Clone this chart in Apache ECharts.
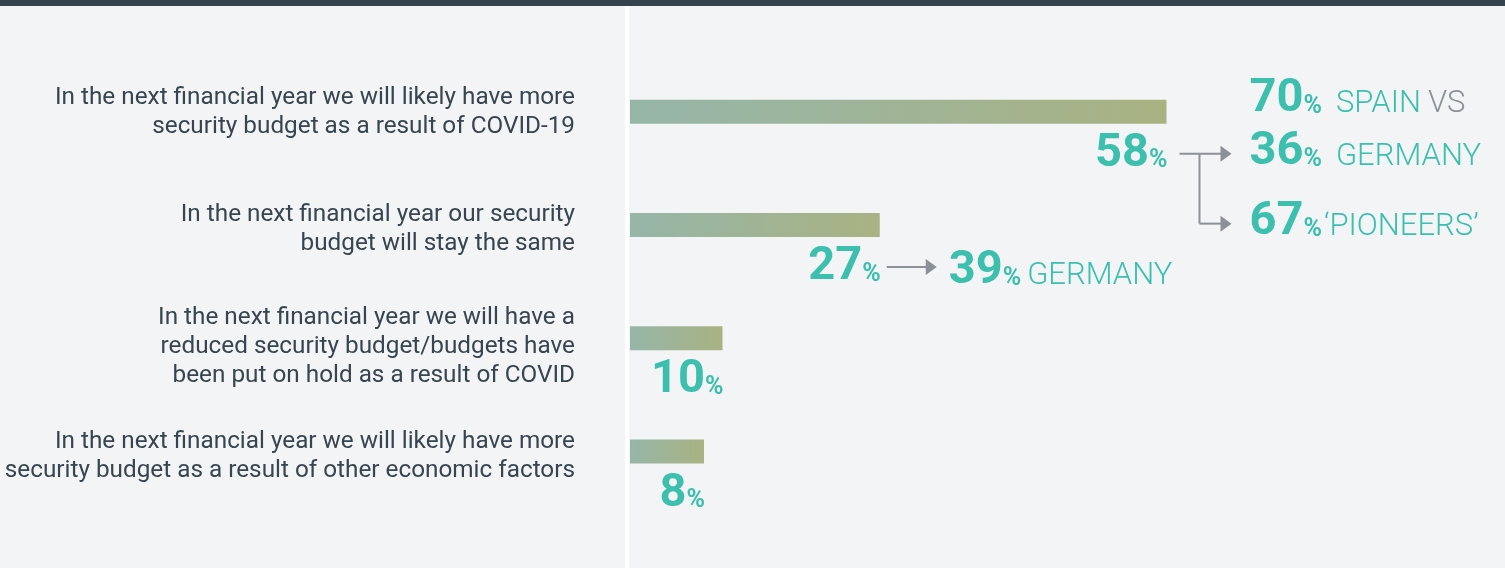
<!DOCTYPE html>
<html><head><meta charset="utf-8">
<script src="https://cdn.jsdelivr.net/npm/echarts@6/dist/echarts.min.js"></script>
<style>html,body{margin:0;padding:0;background:#f3f4f6}#c{width:1505px;height:568px}</style>
</head><body><div id="c"></div>
<script>
const categories = [
  'In the next financial year we will likely have more\nsecurity budget as a result of COVID-19',
  'In the next financial year our security\nbudget will stay the same',
  'In the next financial year we will have a\nreduced security budget/budgets have\nbeen put on hold as a result of COVID',
  'In the next financial year we will likely have more\nsecurity budget as a result of other economic factors'
];
const values = [58, 27, 10, 8];
const row1CalloutValues = [70, 36, 67];
const row1CalloutLabels = ['SPAIN', 'GERMANY', '\u2018PIONEERS\u2019'];
const row1CalloutSuffix = ['VS', '', ''];
const row2CalloutValues = [39];
const row2CalloutLabels = ['GERMANY'];

const TEAL = '#3cbfad', DARK = '#36454f', GREY = '#8b9197';
const FONT = 'Roboto';
const chart = echarts.init(document.getElementById('c'), null, {renderer: 'canvas'});

function makeRich(key) {
  const c = (col) => { const o = {}; o[key] = col; return o; };
  const word = (pl, col) => Object.assign({fontSize: 31, fontWeight: 300, fontFamily: FONT, lineHeight: 31, verticalAlign: 'bottom', padding: [0, 0, 3, pl]}, c(col));
  return {
    n: Object.assign({fontSize: 47, fontWeight: 'bold', fontFamily: FONT, lineHeight: 47, verticalAlign: 'bottom'}, c(TEAL)),
    p: Object.assign({fontSize: 25, fontWeight: 'bold', fontFamily: FONT, lineHeight: 25, verticalAlign: 'bottom', padding: [0, 0, 4, 0]}, c(TEAL)),
    w: word(14, TEAL),
    v: word(6, TEAL),
    q: word(2, TEAL),
    g: word(7, GREY)
  };
}

// vertical fine-tuning of the category labels (each line nudged down by pad/2)
const labelPad = [2, 10, 18, 10];
const labelRich = {};
labelPad.forEach((p, i) => {
  labelRich['t' + i] = {fontSize: 24.3, lineHeight: 29, fontFamily: FONT, color: DARK, align: 'right', padding: [p, 0, 0, 0]};
});

chart.setOption({
  backgroundColor: '#f3f4f6',
  animation: false,
  grid: {left: 630, top: 55, height: 453, width: 740},
  xAxis: {type: 'value', min: 0, max: 80, show: false},
  yAxis: {
    type: 'category', inverse: true,
    data: categories,
    axisLine: {show: false}, axisTick: {show: false}, splitLine: {show: false},
    axisLabel: {
      margin: 55, color: DARK, fontSize: 24.3, lineHeight: 29, fontFamily: FONT, align: 'right',
      formatter: (val, idx) => val.split('\n').map(l => '{t' + idx + '|' + l + '}').join('\n'),
      rich: labelRich
    }
  },
  series: [{
    type: 'bar', data: values, barWidth: 24,
    itemStyle: {color: new echarts.graphic.LinearGradient(0, 0, 1, 0, [{offset: 0, color: '#96b6a9'}, {offset: 1, color: '#a9b282'}])},
    label: {
      show: true, position: ['100%', '100%'], align: 'right', verticalAlign: 'top', offset: [1, 7],
      formatter: p => '{n|' + p.value + '}{p|%}',
      rich: makeRich('color')
    }
  }]
});

const gRich = makeRich('fill');
function arrowHead(x, y) {
  return {type: 'polygon', shape: {points: [[x - 11, y - 8], [x, y], [x - 11, y + 8]]}, style: {fill: GREY}, z: 10};
}
function line(x1, y1, x2, y2) {
  return {type: 'line', shape: {x1, y1, x2, y2}, style: {stroke: GREY, lineWidth: 2}, z: 10};
}
function callText(x, baseline, v, label, suffix, wordKey) {
  let t = '{n|' + v + '}{p|%}' + '{' + wordKey + '|' + label + '}';
  if (suffix) t += '{g|' + suffix + '}';
  return {type: 'text', x: x, y: baseline + 11, style: {text: t, rich: gRich, verticalAlign: 'bottom', align: 'left'}, z: 10};
}

const p0 = chart.convertToPixel({gridIndex: 0}, [values[0], 0]);
const p1 = chart.convertToPixel({gridIndex: 0}, [values[1], 1]);
const els = [
  {type: 'rect', shape: {x: 0, y: 0, width: 1505, height: 6}, style: {fill: '#33444f'}, z: 20},
  {type: 'rect', shape: {x: 625, y: 6, width: 4, height: 562}, style: {fill: '#ffffff'}, z: 1}
];
const ya = p0[1] + 42;
els.push(line(p0[0] + 13, ya, p0[0] + 58, ya));
els.push(arrowHead(p0[0] + 65, ya));
els.push(line(p0[0] + 33, ya, p0[0] + 33, ya + 70));
els.push(line(p0[0] + 33, ya + 70, p0[0] + 58, ya + 70));
els.push(arrowHead(p0[0] + 65, ya + 70));
const baselines1 = [p0[1] + 0.5, p0[1] + 53.5, p0[1] + 123.5];
const wordKeys1 = ['w', 'w', 'q'];
row1CalloutValues.forEach((v, i) => {
  els.push(callText(p0[0] + 83, baselines1[i], v, row1CalloutLabels[i], row1CalloutSuffix[i], wordKeys1[i]));
});
const yb = p1[1] + 42;
els.push(line(p1[0] + 7, yb, p1[0] + 50, yb));
els.push(arrowHead(p1[0] + 57, yb));
els.push(callText(p1[0] + 69, p1[1] + 59, row2CalloutValues[0], row2CalloutLabels[0], '', 'v'));
chart.setOption({graphic: {elements: els}});
</script></body></html>
